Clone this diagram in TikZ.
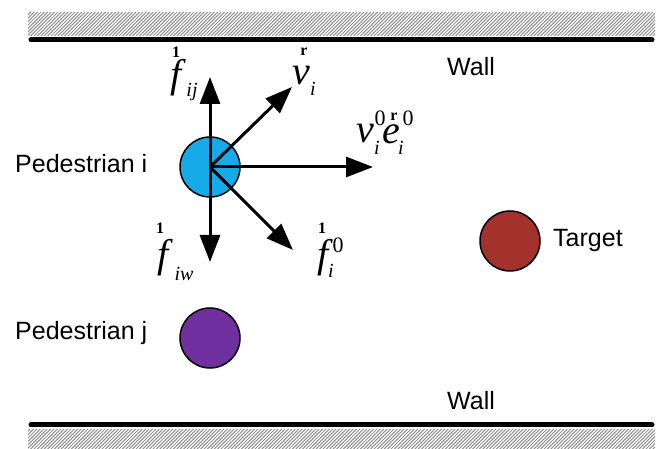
\documentclass[tikz,border=0pt]{standalone}
\usepackage{fontspec}
\setmainfont{Liberation Sans}
\newfontfamily\mser{Liberation Serif}
\usetikzlibrary{arrows.meta}
\definecolor{pedcyan}{RGB}{22,170,232}
\definecolor{pedpurple}{RGB}{112,48,160}
\definecolor{tgtred}{RGB}{163,50,44}
\tikzset{
  lbl/.style={font=\fontsize{25}{25}\selectfont, inner sep=0pt},
  mbig/.style={font=\mser\itshape\fontsize{40}{40}\selectfont, inner sep=0pt},
  msub/.style={font=\mser\itshape\fontsize{20}{20}\selectfont, inner sep=0pt},
  msup/.style={font=\mser\fontsize{22}{22}\selectfont, inner sep=0pt},
  acc/.style={font=\mser\bfseries\fontsize{16}{16}\selectfont, inner sep=0pt},
  force/.style={line width=3pt, -{Triangle[length=27pt,width=20pt]}},
  ped/.style={circle, draw=black, line width=1.5pt, minimum size=60pt, inner sep=0pt},
  wall/.style={line width=5pt, line cap=round},
  hatch/.style={gray!85, line width=1pt},
}
\begin{document}
\begin{tikzpicture}[x=1pt,y=-1pt]
\useasboundingbox (0,0) rectangle (657,449);
% hatching
\begin{scope}
  \clip (28,12) rectangle (655,36);
  \foreach \x in {0,3.4,...,690} \draw[hatch] (\x,36) -- (\x+24,12);
\end{scope}
\begin{scope}
  \clip (28,429) rectangle (655,449);
  \foreach \x in {0,3.4,...,690} \draw[hatch] (\x,449) -- (\x+20,429);
\end{scope}
% walls
\coordinate (wt1) at (31,40);
\coordinate (wt2) at (652,40);
\coordinate (wb1) at (31,425);
\coordinate (wb2) at (652,425);
\draw[wall] (wt1) -- (wt2);
\draw[wall] (wb1) -- (wb2);
\node[lbl, anchor=base west] (walltop) at (447,76) {Wall};
\node[lbl, anchor=base west] (wallbot) at (447,410) {Wall};
% pedestrians and target
\node[ped, fill=pedcyan] (pi) at (210,167) {};
\node[ped, fill=pedpurple] (pj) at (210,338) {};
\node[ped, fill=tgtred] (tg) at (510,241) {};
\node[lbl, anchor=base west] (lpi) at (15,173) {Pedestrian i};
\node[lbl, anchor=base west] (lpj) at (15,340) {Pedestrian j};
\node[lbl, anchor=base west] (ltg) at (553,247) {Target};
% force arrows
\coordinate (tup) at (210,77);
\coordinate (tur) at (292,87);
\coordinate (tr) at (373,167);
\coordinate (tdn) at (210,262);
\coordinate (tdr) at (293,250);
\draw[force] (pi.center) -- (tup);
\draw[force] (pi.center) -- (tur);
\draw[force] (pi.center) -- (tr);
\draw[force] (pi.center) -- (tdn);
\draw[force] (pi.center) -- (tdr);
% f_ij
\node[acc] (a1) at (176,52) {1};
\node[mbig] (f1) at (176,78) {f};
\node[msub] (s1) at (192,92) {ij};
% v_i
\node[acc] (a2) at (304,52) {r};
\node[mbig] (v2) at (301,76) {v};
\node[msub] (s2) at (313,89) {i};
% v_i^0 e_i^0
\node[mbig] (v3) at (365,134) {v};
\node[msup] (p3) at (380,118) {0};
\node[msub] (s3) at (377,148) {i};
\node[mbig] (e3) at (391,134) {e};
\node[acc] (a3) at (394,117) {r};
\node[msup] (q3) at (408,118) {0};
\node[msub] (t3) at (401,148) {i};
% f_iw
\node[acc] (a4) at (160,228) {1};
\node[mbig] (f4) at (163,258) {f};
\node[msub] (s4) at (184,274) {iw};
% f_i^0
\node[acc] (a5) at (322,228) {1};
\node[mbig] (f5) at (323,258) {f};
\node[msup] (p5) at (338,245) {0};
\node[msub] (s5) at (331,271) {i};
\end{tikzpicture}
\end{document}
